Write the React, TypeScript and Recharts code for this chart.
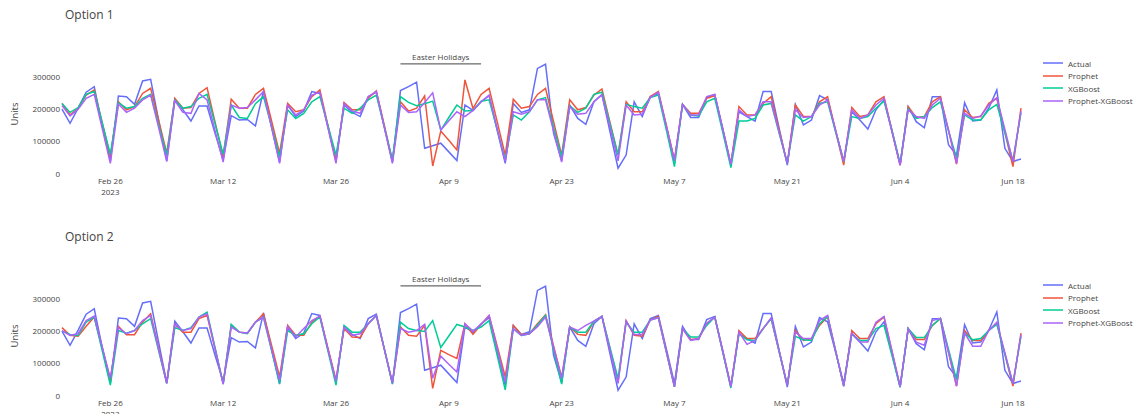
import React from "react";
import { LineChart, Line, XAxis, YAxis, ReferenceLine } from "recharts";

// daily units, Mon 2023-02-20 .. Mon 2023-06-19
const actual = [
  201000, 157000, 204000, 254000, 271000, 150000, 40000,
  242000, 240000, 216000, 289000, 294000, 165000, 40000,
  232000, 199000, 164000, 211000, 211000, 125000, 43000,
  181000, 167000, 169000, 149000, 258000, 145000, 36000,
  214000, 178000, 195000, 256000, 250000, 145000, 43000,
  214000, 191000, 178000, 240000, 254000, 145000, 36000,
  259000, 271000, 285000, 79000, 87000, 95000, 68000,
  41000, 214000, 197000, 224000, 243000, 135000, 32000,
  219000, 191000, 199000, 328000, 341000, 126000, 40000,
  214000, 172000, 154000, 224000, 247000, 130000, 17000,
  58000, 224000, 178000, 240000, 250000, 145000, 38000,
  216000, 175000, 175000, 237000, 247000, 140000, 29000,
  193000, 178000, 164000, 256000, 256000, 140000, 27000,
  216000, 152000, 167000, 243000, 230000, 135000, 38000,
  193000, 167000, 139000, 199000, 230000, 130000, 27000,
  209000, 162000, 143000, 240000, 240000, 90000, 58000,
  221000, 164000, 167000, 204000, 261000, 79000, 38000,
  46000,
];

const prophet1 = [
  219000, 183000, 204000, 245000, 261000, 157000, 53000,
  224000, 199000, 209000, 250000, 266000, 165000, 64000,
  235000, 204000, 206000, 250000, 268000, 160000, 53000,
  232000, 204000, 204000, 247000, 266000, 165000, 63000,
  219000, 193000, 199000, 240000, 261000, 150000, 38000,
  222000, 199000, 199000, 235000, 258000, 150000, 40000,
  224000, 195000, 204000, 242000, 24000, 133000, 104000,
  74000, 292000, 203000, 247000, 266000, 162000, 58000,
  232000, 204000, 209000, 247000, 266000, 162000, 58000,
  230000, 199000, 206000, 245000, 264000, 160000, 58000,
  224000, 193000, 193000, 240000, 256000, 150000, 43000,
  216000, 188000, 188000, 235000, 243000, 136000, 29000,
  209000, 183000, 183000, 219000, 240000, 135000, 32000,
  214000, 178000, 178000, 224000, 240000, 133000, 27000,
  206000, 178000, 183000, 224000, 240000, 133000, 27000,
  209000, 175000, 178000, 224000, 240000, 135000, 30000,
  199000, 175000, 178000, 219000, 235000, 128000, 22000,
  204000,
];

const xgboost1 = [
  219000, 191000, 206000, 247000, 256000, 158000, 60000,
  221000, 204000, 209000, 235000, 247000, 152000, 58000,
  230000, 204000, 209000, 235000, 247000, 155000, 60000,
  214000, 175000, 172000, 218000, 240000, 148000, 53000,
  199000, 172000, 188000, 224000, 240000, 150000, 58000,
  204000, 188000, 204000, 230000, 245000, 145000, 43000,
  240000, 222000, 212000, 218000, 226000, 136000, 175000,
  214000, 195000, 197000, 226000, 230000, 138000, 43000,
  183000, 167000, 193000, 230000, 237000, 145000, 53000,
  211000, 191000, 204000, 247000, 254000, 155000, 58000,
  216000, 209000, 204000, 237000, 245000, 135000, 22000,
  216000, 183000, 180000, 224000, 235000, 128000, 19000,
  164000, 164000, 172000, 214000, 219000, 125000, 32000,
  183000, 164000, 178000, 219000, 224000, 130000, 38000,
  178000, 172000, 178000, 204000, 226000, 135000, 32000,
  202000, 172000, 178000, 206000, 224000, 135000, 48000,
  183000, 167000, 167000, 199000, 216000, 128000, 40000,
  190000,
];

const hybrid1 = [
  212000, 180000, 201000, 235000, 247000, 140000, 32000,
  217000, 191000, 204000, 230000, 245000, 143000, 38000,
  228000, 191000, 188000, 250000, 230000, 133000, 36000,
  214000, 204000, 206000, 230000, 256000, 145000, 32000,
  214000, 183000, 199000, 245000, 254000, 143000, 32000,
  219000, 195000, 188000, 240000, 256000, 144000, 32000,
  214000, 191000, 193000, 222000, 252000, 136000, 165000,
  193000, 178000, 197000, 224000, 245000, 140000, 38000,
  193000, 185000, 193000, 230000, 230000, 133000, 36000,
  209000, 185000, 188000, 224000, 245000, 143000, 40000,
  214000, 183000, 185000, 237000, 254000, 147000, 40000,
  216000, 183000, 183000, 240000, 247000, 138000, 29000,
  199000, 178000, 183000, 224000, 224000, 128000, 32000,
  199000, 175000, 178000, 214000, 230000, 134000, 38000,
  199000, 172000, 183000, 214000, 235000, 131000, 27000,
  199000, 178000, 172000, 214000, 235000, 136000, 32000,
  188000, 172000, 180000, 214000, 237000, 138000, 38000,
  195000,
];

const prophet2 = [
  212000, 188000, 185000, 216000, 245000, 147000, 49000,
  216000, 190000, 190000, 229000, 255000, 147000, 40000,
  222000, 198000, 198000, 240000, 250000, 145000, 38000,
  219000, 198000, 195000, 229000, 255000, 157000, 59000,
  219000, 188000, 188000, 229000, 248000, 148000, 49000,
  209000, 183000, 181000, 224000, 250000, 145000, 40000,
  214000, 188000, 185000, 219000, 23000, 141000, 128000,
  116000, 224000, 191000, 222000, 250000, 155000, 59000,
  219000, 191000, 193000, 224000, 252000, 155000, 57000,
  214000, 191000, 188000, 232000, 247000, 145000, 43000,
  234000, 188000, 185000, 236000, 247000, 138000, 28000,
  209000, 174000, 178000, 224000, 245000, 137000, 28000,
  203000, 178000, 178000, 209000, 240000, 137000, 33000,
  203000, 172000, 178000, 219000, 247000, 139000, 30000,
  203000, 178000, 178000, 224000, 245000, 137000, 28000,
  209000, 175000, 175000, 219000, 241000, 136000, 30000,
  203000, 172000, 172000, 203000, 226000, 128000, 30000,
  195000,
];

const xgboost2 = [
  201000, 191000, 188000, 229000, 245000, 139000, 33000,
  203000, 195000, 203000, 224000, 240000, 139000, 38000,
  212000, 203000, 212000, 245000, 260000, 149000, 36000,
  222000, 198000, 193000, 229000, 245000, 141000, 38000,
  203000, 188000, 193000, 224000, 245000, 139000, 33000,
  219000, 198000, 198000, 224000, 250000, 145000, 38000,
  229000, 209000, 203000, 200000, 234000, 150000, 186000,
  222000, 214000, 203000, 214000, 234000, 126000, 18000,
  209000, 188000, 193000, 220000, 250000, 143000, 36000,
  214000, 198000, 198000, 232000, 247000, 150000, 54000,
  229000, 198000, 198000, 236000, 243000, 135000, 28000,
  209000, 183000, 183000, 219000, 245000, 135000, 24000,
  193000, 174000, 172000, 209000, 240000, 136000, 33000,
  185000, 174000, 172000, 224000, 247000, 139000, 30000,
  193000, 172000, 172000, 209000, 219000, 124000, 26000,
  209000, 181000, 181000, 219000, 241000, 145000, 49000,
  195000, 174000, 178000, 203000, 222000, 130000, 38000,
  185000,
];

const hybrid2 = [
  203000, 188000, 193000, 234000, 248000, 151000, 54000,
  212000, 193000, 203000, 234000, 250000, 144000, 38000,
  222000, 203000, 209000, 245000, 255000, 146000, 36000,
  214000, 198000, 195000, 229000, 245000, 145000, 48000,
  216000, 183000, 209000, 234000, 248000, 144000, 45000,
  214000, 188000, 193000, 224000, 250000, 145000, 40000,
  209000, 198000, 203000, 222000, 54000, 123000, 98000,
  74000, 224000, 201000, 222000, 250000, 147000, 43000,
  209000, 188000, 193000, 215000, 245000, 150000, 54000,
  214000, 203000, 219000, 232000, 247000, 142000, 38000,
  232000, 191000, 191000, 236000, 243000, 136000, 28000,
  209000, 172000, 178000, 226000, 245000, 137000, 28000,
  198000, 160000, 172000, 209000, 243000, 138000, 33000,
  198000, 178000, 178000, 234000, 250000, 140000, 30000,
  195000, 167000, 167000, 229000, 247000, 138000, 28000,
  209000, 167000, 157000, 234000, 241000, 136000, 30000,
  195000, 154000, 154000, 203000, 229000, 134000, 38000,
  190000,
];

const tickDates = [
  "2023-02-26", "2023-03-12", "2023-03-26", "2023-04-09", "2023-04-23",
  "2023-05-07", "2023-05-21", "2023-06-04", "2023-06-18",
];
const tickLabels = ["Feb 26", "Mar 12", "Mar 26", "Apr 9", "Apr 23", "May 7", "May 21", "Jun 4", "Jun 18"];
const yTicks = [0, 100000, 200000, 300000];
const easter = { from: "2023-04-03", to: "2023-04-13", level: 342000, label: "Easter Holidays" };

const names = ["Actual", "Prophet", "XGBoost", "Prophet-XGBoost"];
const colors = ["#636EFA", "#EF553B", "#00CC96", "#AB63FA"];
const keys = ["actual", "prophet", "xgboost", "hybrid"];

const DAY = 86400000;
const start = Date.UTC(2023, 1, 20);
const toTime = (s: string) => Date.parse(s + "T00:00:00Z");
const tickTimes = tickDates.map(toTime);

function buildRows(p: number[], x: number[], h: number[]) {
  return actual.map((a, i) => ({
    t: start + i * DAY,
    actual: a,
    prophet: p[i],
    xgboost: x[i],
    hybrid: h[i],
  }));
}

const font = "'Open Sans', verdana, arial, sans-serif";
const txt = "#444";

const XTick = (props: any) => {
  const { x, y, payload, index } = props;
  const i = tickTimes.indexOf(payload.value);
  return (
    <g>
      <text x={x} y={y} dy={6} textAnchor="middle" fontSize={8} fill={txt} fontFamily={font}>
        {tickLabels[i]}
      </text>
      {index === 0 && (
        <text x={x} y={y} dy={17} textAnchor="middle" fontSize={8} fill={txt} fontFamily={font}>
          2023
        </text>
      )}
    </g>
  );
};

function Panel({ title, rows, top }: { title: string; rows: any[]; top: number }) {
  return (
    <div style={{ position: "absolute", left: 0, top, width: 1135, height: 222 }}>
      <div style={{ position: "absolute", left: 65, top: 9, fontSize: 12, lineHeight: "12px", color: txt, fontFamily: font }}>
        {title}
      </div>
      <div
        style={{
          position: "absolute", left: 14, top: 114, fontSize: 9.5, color: txt, fontFamily: font,
          transform: "translate(-50%, -50%) rotate(-90deg)", whiteSpace: "nowrap",
        }}
      >
        Units
      </div>
      <LineChart width={1135} height={222} data={rows} margin={{ top: 50, right: 114, bottom: 0, left: 10 }}>
        <XAxis
          dataKey="t"
          type="number"
          domain={[rows[0].t, rows[rows.length - 1].t]}
          ticks={tickTimes}
          interval={0}
          axisLine={false}
          tickLine={false}
          tickSize={0}
          tickMargin={0}
          height={44}
          tick={<XTick />}
        />
        <YAxis
          type="number"
          domain={[-13400, 385300]}
          allowDataOverflow
          ticks={yTicks}
          axisLine={false}
          tickLine={false}
          tickSize={0}
          tickMargin={2}
          width={52}
          tick={{ fontSize: 8, fill: txt, fontFamily: font }}
        />
        <ReferenceLine
          segment={[
            { x: toTime(easter.from), y: easter.level },
            { x: toTime(easter.to), y: easter.level },
          ]}
          stroke={txt}
          strokeWidth={1}
          label={{ value: easter.label, position: "top", offset: 4, fontSize: 8, fill: txt, fontFamily: font }}
        />
        {keys.map((k, i) => (
          <Line
            key={k}
            dataKey={k}
            name={names[i]}
            stroke={colors[i]}
            strokeWidth={1.5}
            dot={false}
            type="linear"
            isAnimationActive={false}
          />
        ))}
      </LineChart>
      {names.map((n, i) => (
        <div
          key={n}
          style={{
            position: "absolute", left: 1043, top: 57 + i * 12.5, height: 12,
            display: "flex", alignItems: "center", fontSize: 8, color: txt, fontFamily: font, whiteSpace: "nowrap",
          }}
        >
          <svg width={20} height={4} style={{ marginRight: 5 }}>
            <line x1={0} y1={2} x2={20} y2={2} stroke={colors[i]} strokeWidth={1.5} />
          </svg>
          {n}
        </div>
      ))}
    </div>
  );
}

export default function App() {
  return (
    <div style={{ position: "absolute", left: 0, top: 0, width: 1135, height: 414, background: "#fff", overflow: "hidden" }}>
      <Panel title="Option 1" rows={buildRows(prophet1, xgboost1, hybrid1)} top={0} />
      <Panel title="Option 2" rows={buildRows(prophet2, xgboost2, hybrid2)} top={222} />
    </div>
  );
}
